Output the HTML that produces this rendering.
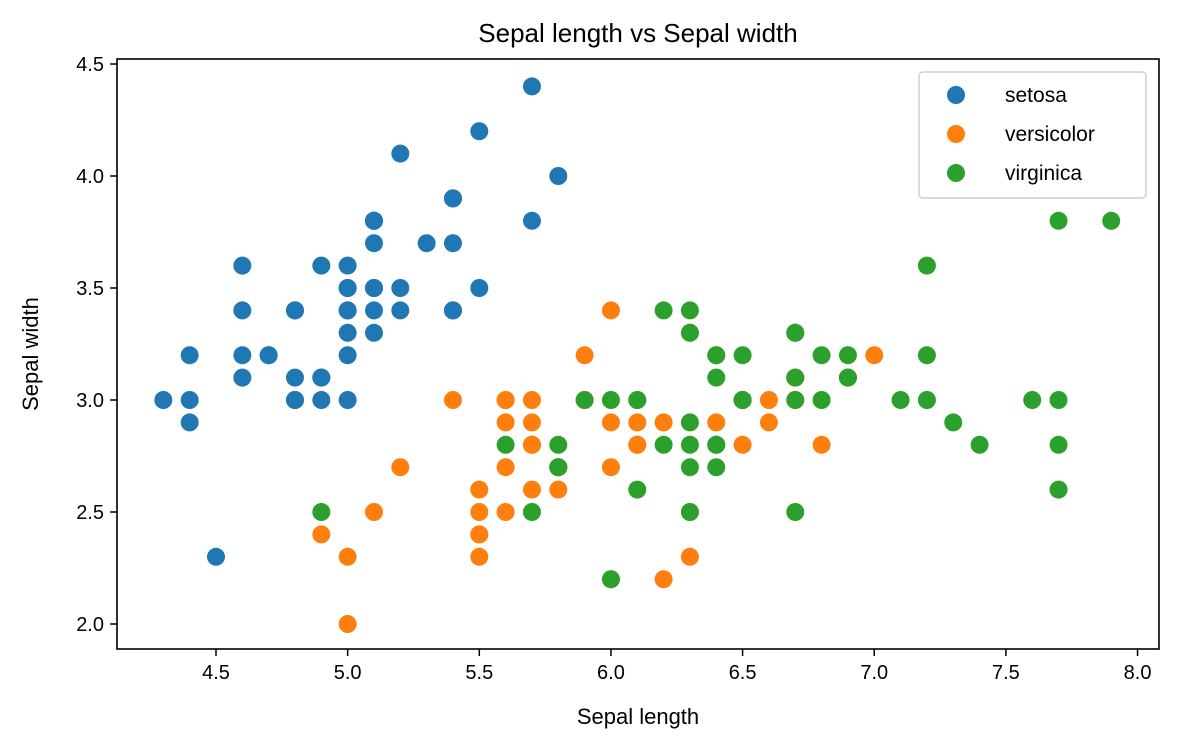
<!DOCTYPE html>
<html><head><meta charset="utf-8"><style>
body{margin:0;background:#fff}
svg text{font-family:"Liberation Sans","DejaVu Sans",sans-serif;fill:#000}
</style></head><body>
<svg id="chart" width="1178" height="751" xmlns="http://www.w3.org/2000/svg">
<rect width="1178" height="751" fill="#fff"/>
<text x="638" y="42" font-size="26" text-anchor="middle">Sepal length vs Sepal width</text>
<g id="marks"></g>
<rect x="117" y="59" width="1042" height="590" fill="none" stroke="#000" stroke-width="1.6"/>
<g id="xt"></g><g id="yt"></g>
<text x="638" y="724" font-size="22" text-anchor="middle">Sepal length</text>
<text transform="translate(38,354) rotate(-90)" font-size="22" text-anchor="middle">Sepal width</text>
<g>
<rect x="919" y="72" width="227" height="126" rx="4" fill="#fff" stroke="#ccc" stroke-width="1.5" opacity="0.9"/>
<g id="leg"></g>
</g>
</svg>
<script>
const seriesNames=["setosa","versicolor","virginica"];
const colors=["#1f77b4","#ff7f0e","#2ca02c"];
const setosa=[[5.1,3.5],[4.9,3.0],[4.7,3.2],[4.6,3.1],[5.0,3.6],[5.4,3.9],[4.6,3.4],[5.0,3.4],[4.4,2.9],[4.9,3.1],[5.4,3.7],[4.8,3.4],[4.8,3.0],[4.3,3.0],[5.8,4.0],[5.7,4.4],[5.4,3.9],[5.1,3.5],[5.7,3.8],[5.1,3.8],[5.4,3.4],[5.1,3.7],[4.6,3.6],[5.1,3.3],[4.8,3.4],[5.0,3.0],[5.0,3.4],[5.2,3.5],[5.2,3.4],[4.7,3.2],[4.8,3.1],[5.4,3.4],[5.2,4.1],[5.5,4.2],[4.9,3.1],[5.0,3.2],[5.5,3.5],[4.9,3.6],[4.4,3.0],[5.1,3.4],[5.0,3.5],[4.5,2.3],[4.4,3.2],[5.0,3.5],[5.1,3.8],[4.8,3.0],[5.1,3.8],[4.6,3.2],[5.3,3.7],[5.0,3.3]];
const versicolor=[[7.0,3.2],[6.4,3.2],[6.9,3.1],[5.5,2.3],[6.5,2.8],[5.7,2.8],[6.3,3.3],[4.9,2.4],[6.6,2.9],[5.2,2.7],[5.0,2.0],[5.9,3.0],[6.0,2.2],[6.1,2.9],[5.6,2.9],[6.7,3.1],[5.6,3.0],[5.8,2.7],[6.2,2.2],[5.6,2.5],[5.9,3.2],[6.1,2.8],[6.3,2.5],[6.1,2.8],[6.4,2.9],[6.6,3.0],[6.8,2.8],[6.7,3.0],[6.0,2.9],[5.7,2.6],[5.5,2.4],[5.5,2.4],[5.8,2.7],[6.0,2.7],[5.4,3.0],[6.0,3.4],[6.7,3.1],[6.3,2.3],[5.6,3.0],[5.5,2.5],[5.5,2.6],[6.1,3.0],[5.8,2.6],[5.0,2.3],[5.6,2.7],[5.7,3.0],[5.7,2.9],[6.2,2.9],[5.1,2.5],[5.7,2.8]];
const virginica=[[6.3,3.3],[5.8,2.7],[7.1,3.0],[6.3,2.9],[6.5,3.0],[7.6,3.0],[4.9,2.5],[7.3,2.9],[6.7,2.5],[7.2,3.6],[6.5,3.2],[6.4,2.7],[6.8,3.0],[5.7,2.5],[5.8,2.8],[6.4,3.2],[6.5,3.0],[7.7,3.8],[7.7,2.6],[6.0,2.2],[6.9,3.2],[5.6,2.8],[7.7,2.8],[6.3,2.7],[6.7,3.3],[7.2,3.2],[6.2,2.8],[6.1,3.0],[6.4,2.8],[7.2,3.0],[7.4,2.8],[7.9,3.8],[6.4,2.8],[6.3,2.8],[6.1,2.6],[7.7,3.0],[6.3,3.4],[6.4,3.1],[6.0,3.0],[6.9,3.1],[6.7,3.1],[6.9,3.1],[5.8,2.7],[6.8,3.2],[6.7,3.3],[6.7,3.0],[6.3,2.5],[6.5,3.0],[6.2,3.4],[5.9,3.0]];
const xTicks=["4.5","5.0","5.5","6.0","6.5","7.0","7.5","8.0"];
const yTicks=["2.0","2.5","3.0","3.5","4.0","4.5"];
const NS="http://www.w3.org/2000/svg";
const X=v=>216+(v-4.5)*263.3, Y=v=>624-(v-2)*224;
function mk(t,a,p){const e=document.createElementNS(NS,t);for(const k in a)e.setAttribute(k,a[k]);p.appendChild(e);return e;}
const marks=document.getElementById('marks');
[setosa,versicolor,virginica].forEach((s,i)=>s.forEach(d=>{
 const c=mk('circle',{cx:X(d[0]),cy:Y(d[1]),r:9,fill:colors[i]},marks);
 
 
}));
const xt=document.getElementById('xt');
xTicks.forEach(t=>{const x=X(+t);
 const l=mk('line',{x1:x,x2:x,y1:649,y2:656,stroke:'#000','stroke-width':1.5},xt);
 
 
 const tx=mk('text',{x:x,y:679,'font-size':20,'text-anchor':'middle'},xt);tx.textContent=t;
 
 
});
const yt=document.getElementById('yt');
yTicks.forEach(t=>{const y=Y(+t);
 const l=mk('line',{x1:110,x2:117,y1:y,y2:y,stroke:'#000','stroke-width':1.5},yt);
 
 
 const tx=mk('text',{x:104,y:y+7,'font-size':20,'text-anchor':'end'},yt);tx.textContent=t;
 
 
});
const leg=document.getElementById('leg');
seriesNames.forEach((n,i)=>{const y=95+i*39;
 const c=mk('circle',{cx:956,cy:y,r:9,fill:colors[i]},leg);
 
 
 const t=mk('text',{x:1005,y:y+7,'font-size':21},leg);t.textContent=n;
 
 
});
</script>
</body></html>
